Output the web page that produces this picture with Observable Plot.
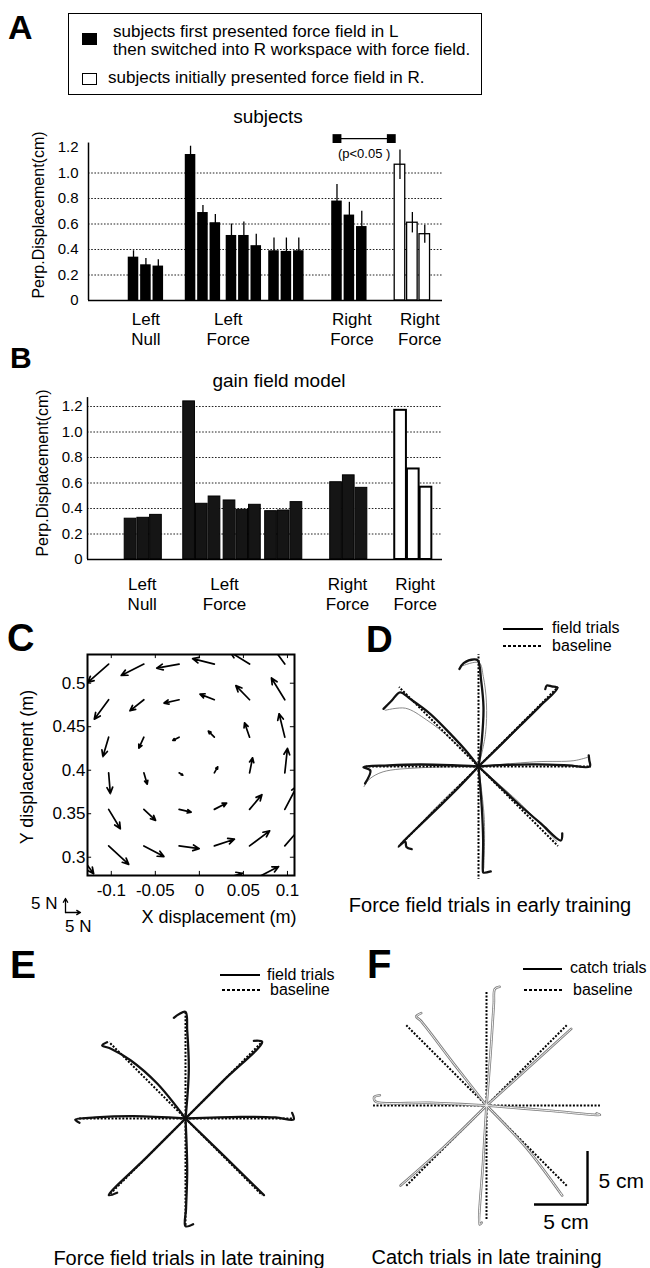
<!DOCTYPE html>
<html>
<head>
<meta charset="utf-8">
<script src="https://cdn.jsdelivr.net/npm/d3@7"></script>
<script src="https://cdn.jsdelivr.net/npm/@observablehq/plot@0.6"></script>
<style>
html,body{margin:0;padding:0;background:#fff;}
#fig{position:relative;width:650px;height:1268px;overflow:hidden;background:#fff;font-family:"Liberation Sans",Arial,Helvetica,sans-serif;color:#000;}
#fig svg{overflow:visible;}
</style>
</head>
<body>
<div id="fig"></div>
<script>
const FONT = '"Liberation Sans", Arial, Helvetica, sans-serif';

// ---------------- Panels A & B : data ----------------
const groupLabels = ["Left\nNull", "Left\nForce", "Right\nForce", "Right\nForce"];
const barsPerGroup = [3, 9, 3, 3];
const groupCondition = ["L first", "L first", "L first", "R first"];
const subjectsMean = [0.34, 0.28, 0.27, 1.145, 0.69, 0.61, 0.51, 0.51, 0.43, 0.39, 0.385, 0.39, 0.78, 0.67, 0.58, 1.065, 0.61, 0.52];
const subjectsErr  = [0.05, 0.05, 0.05, 0.065, 0.055, 0.065, 0.09, 0.105, 0.09, 0.10, 0.105, 0.10, 0.13, 0.10, 0.12, 0.115, 0.08, 0.07];
const modelMean    = [0.32, 0.327, 0.35, 1.24, 0.437, 0.494, 0.463, 0.39, 0.429, 0.379, 0.384, 0.45, 0.606, 0.66, 0.562, 1.17, 0.71, 0.567];
const perpTicks = [0, 0.2, 0.4, 0.6, 0.8, 1.0, 1.2];
const sigLabel = "(p<0.05 )";
const legendEntries = [
  "subjects first presented force field in L",
  "then switched into R workspace with force field.",
  "subjects initially presented force field in R."
];

// ---------------- Panel C : force field (m) ----------------
const quiverColsX = [-0.103, -0.063, -0.023, 0.017, 0.057, 0.097];
const quiverRowsY = [0.522, 0.481, 0.438, 0.397, 0.355, 0.313];
const quiverU = [
  [-0.0239, -0.0258, -0.0254, -0.0247, -0.0220, -0.0152],
  [-0.0163, -0.0159, -0.0171, -0.0163, -0.0156, -0.0152],
  [-0.0065, -0.0057, -0.0072, -0.0068, -0.0057, -0.0065],
  [ 0.0019,  0.0038,  0.0042,  0.0038,  0.0034,  0.0030],
  [ 0.0133,  0.0133,  0.0137,  0.0140,  0.0140,  0.0140],
  [ 0.0228,  0.0228,  0.0228,  0.0228,  0.0228,  0.0228]
];
const quiverV = [
  [-0.0212, -0.0131, -0.0046,  0.0062,  0.0138,  0.0212],
  [-0.0223, -0.0127, -0.0038,  0.0065,  0.0162,  0.0250],
  [-0.0223, -0.0127, -0.0038,  0.0069,  0.0165,  0.0269],
  [-0.0238, -0.0131, -0.0027,  0.0069,  0.0173,  0.0281],
  [-0.0223, -0.0127, -0.0031,  0.0073,  0.0169,  0.0269],
  [-0.0212, -0.0123, -0.0031,  0.0077,  0.0173,  0.0269]
];
const quiverEdge = [ // [x, y, u, v] arrows from just outside the frame
  [-0.143, 0.313, 0.023, -0.032],
  [0.017, 0.272, 0.032, 0.0096],
  [0.057, 0.272, 0.033, 0.0173]
];
const cXTicks = [-0.1, -0.05, 0, 0.05, 0.1];
const cYTicks = [0.3, 0.35, 0.4, 0.45, 0.5];
const forceKeyN = 5;

// ---------------- Panels D, E, F : hand paths (cm) ----------------
const targetDirsDeg = [0, 45, 90, 135, 180, 225, 270, 315];
const dFieldPaths = [
  [[0,0],[2.5,0.15],[5.5,0.2],[8.5,0.1],[10.5,0],[10.45,0.6],[10.4,1.05]],
  [[0,0],[2,1.95],[3.93,3.87],[5.8,5.7],[7.45,7.42],[6.9,7.55],[6.45,7.64],[6.3,7.3]],
  [[0,0],[0.31,2.45],[0.47,5.6],[0.25,8.1],[-0.05,10.0],[-0.4,10.1],[-1.4,9.75],[-1.8,9.2]],
  [[0,0],[-1.2,1.5],[-2.36,2.77],[-4.56,4.97],[-6.45,6.38],[-7.4,7.0],[-8.2,6.2],[-8.96,5.44]],
  [[0,0],[-2.5,0.12],[-5.5,0.19],[-8.5,0.1],[-10.85,-0.06],[-10.2,-0.38],[-10.7,-1.6]],
  [[0,0],[-1.9,-2.0],[-3.93,-4.0],[-5.8,-5.8],[-7.55,-7.55],[-6.9,-7.1],[-6.8,-7.6],[-6.3,-7.8]],
  [[0,0],[0.31,-3.84],[0.44,-6.98],[0.41,-9.8],[0.45,-10.0],[1.16,-9.9]],
  [[0,0],[1.9,-1.8],[3.93,-3.68],[5.9,-5.4],[7.77,-6.98],[7.9,-6.3]]
];
const dTrialPaths = [
  [[0,0],[5.5,0.45],[9,0.55],[10.4,0.9]],
  [[0,0],[3.9,3.7],[7.3,7.15]],
  [[0,0],[0.65,3],[0.75,6],[0.45,8.5],[0.05,9.8],[-1.5,9.5]],
  [[0,0],[-2.6,2.6],[-4.9,4.4],[-6.9,5.5],[-8.8,5.3]],
  [[0,0],[-5.5,-0.12],[-9,-0.5],[-10.3,-1.2],[-10.8,-1.9]],
  [[0,0],[-4.05,-3.9],[-7.3,-7.4]],
  [[0,0],[0.55,-5],[0.5,-9.6]],
  [[0,0],[4.05,-3.6],[7.4,-7.1]]
];
const eFieldPaths = [
  [[0,0],[5.2,0.16],[8.5,0.1],[10.2,-0.1],[10.06,0.53]],
  [[0,0],[3.6,3.6],[7.23,7.23],[6.45,7.33]],
  [[0,0],[0.31,4.56],[0.16,8.33],[0,10.06],[-0.63,9.84],[-1.1,9.5]],
  [[0,0],[-2.67,3.3],[-5.19,5.5],[-7.08,6.6],[-7.86,6.9],[-7.4,7.2]],
  [[0,0],[-4.87,0.22],[-8.5,0.1],[-10.4,-0.1],[-10.0,-0.4]],
  [[0,0],[-3.6,-3.6],[-7.23,-7.23],[-6.45,-7.0]],
  [[0,0],[0.16,-4.87],[0.05,-8.5],[0,-10.16],[0.72,-9.97]],
  [[0,0],[3.7,-3.6],[7.4,-7.23]]
];
const fCatchPaths = [
  [[0,0],[5.72,-0.47],[10.7,-0.88],[10.4,-0.75]],
  [[0,0],[3.84,3.46],[7.99,7.23]],
  [[0,0],[0.38,4.87],[0.69,9.6],[0.79,11.0],[1.23,11.2]],
  [[0,0],[-3.08,3.93],[-6.23,8.02],[-6.63,8.4],[-6.16,8.71]],
  [[0,0],[-5.28,0.25],[-10.47,0.38],[-10.6,0.79],[-10.06,0.97]],
  [[0,0],[-4.03,-3.93],[-8.11,-7.55]],
  [[0,0],[-0.31,-5.19],[-0.63,-11.23],[-0.45,-11.05]],
  [[0,0],[3.84,-4.09],[7.14,-8.49],[7.0,-8.3]]
];
const baselineReachCm = {D: 10.6, E: 10.2, F: 10.7};
const scaleBarCm = 5;

// ---------------- helpers ----------------
const fig = document.getElementById("fig");
function place(node, left, top) {
  node.style.position = "absolute";
  node.style.left = left + "px";
  node.style.top = top + "px";
  fig.appendChild(node);
  return node;
}
function label(str, x, baseline, size, opts = {}) {
  const {anchor = "start", weight = "normal"} = opts;
  const d = document.createElement("div");
  d.textContent = str;
  d.style.cssText = `white-space:nowrap;font-size:${size}px;line-height:${size}px;font-weight:${weight};`;
  place(d, x, baseline - 0.8465 * size);
  if (anchor === "middle") d.style.transform = "translateX(-50%)";
  if (anchor === "end") d.style.transform = "translateX(-100%)";
  return d;
}
function vlabel(str, cx, cy, size) {
  const d = document.createElement("div");
  d.textContent = str;
  d.style.cssText = `white-space:nowrap;font-size:${size}px;line-height:${size}px;transform:translate(-50%,-50%) rotate(-90deg);`;
  place(d, cx, cy);
}
function box(left, top, w, h, css) {
  const d = document.createElement("div");
  d.style.cssText = `width:${w}px;height:${h}px;box-sizing:border-box;${css}`;
  return place(d, left, top);
}
function legendLine(left, y, w, dotted) {
  const bg = dotted ? "repeating-linear-gradient(90deg,#000 0 3px,transparent 3px 5px)" : "#000";
  box(left, y - 1, w, 2, `background:${bg};`);
}
function plotStyle(size) {
  return {fontFamily: FONT, fontSize: size + "px", background: "transparent", overflow: "visible", maxWidth: "none", color: "black"};
}

// ---------------- bar panels ----------------
function barRows(values, errs, layout) {
  const rows = [];
  let pos = 0, g = 0, k = 0;
  values.forEach((v, i) => {
    if (i % 3 === 0) pos = i === 0 ? layout.gaps[0] : pos + 1 + layout.gaps[i / 3];
    else pos += 1;
    rows.push({pos, value: v, err: errs ? errs[i] : 0, group: g, cond: groupCondition[g]});
    if (++k === barsPerGroup[g]) { g++; k = 0; }
  });
  return rows;
}
function groupLabelRows(rows, layout) {
  return groupLabels.map((text, g) => ({
    text, pos: d3.mean(rows.filter(r => r.group === g), r => r.pos) + layout.labelShift[g]
  }));
}
const tickFmt = d => d === 0 ? "0" : d.toFixed(1);

function barPanel(rows, layout, cfg) {
  const hw = layout.barW / 2;
  const black = rows.filter(r => r.cond === "L first");
  const white = rows.filter(r => r.cond === "R first");
  const marks = [
    Plot.ruleY(cfg.grid, {x1: () => 0, x2: () => layout.span, stroke: "#222", strokeWidth: 1, strokeDasharray: "1.6,1.6"}),
    Plot.rectY(black, {x1: d => d.pos - hw, x2: d => d.pos + hw, y1: () => 0, y2: "value", fill: cfg.blackFill, stroke: "#000", strokeWidth: cfg.blackStroke}),
    Plot.rectY(white, {x1: d => d.pos - hw, x2: d => d.pos + hw, y1: () => 0, y2: "value", fill: "white", stroke: "#000", strokeWidth: cfg.whiteStroke})
  ];
  if (cfg.errors) marks.push(Plot.ruleX(rows, {x: "pos", y1: d => d.value - d.err, y2: d => d.value + d.err, stroke: "#000", strokeWidth: 1.3}));
  marks.push(
    Plot.ruleY([0], {x1: () => 0, x2: () => layout.span, stroke: "#000", strokeWidth: 1.5}),
    Plot.ruleX([0], {y1: () => 0, y2: () => cfg.axisTop, stroke: "#000", strokeWidth: 1.5}),
    Plot.axisY(perpTicks, {tickSize: 0, tickPadding: cfg.tickPad, tickFormat: tickFmt, fontSize: 15, label: null}),
    Plot.text(groupLabelRows(rows, layout), {x: "pos", y: () => 0, text: "text", lineAnchor: "top", dy: cfg.labelDy, fontSize: 17, lineHeight: 20 / 17})
  );
  if (cfg.extra) marks.push(...cfg.extra);
  return Plot.plot({
    width: 450, height: cfg.height,
    marginLeft: cfg.axisX, marginRight: 8, marginTop: cfg.marginTop, marginBottom: cfg.marginBottom,
    x: {domain: [0, layout.span], axis: null},
    y: {domain: [0, 1.2], label: null},
    style: plotStyle(15),
    marks
  });
}

// Panel A
const layoutA = {gaps: [3.63, 1.6, 0.3, 0.43, 2.08, 2.08], span: 28.55, barW: 0.85, labelShift: [0, -1.3, 0.2, 0.6]};
const rowsA = barRows(subjectsMean, subjectsErr, layoutA);
const sigY = 1.27;
const sigA = rowsA[12].pos, sigB = rowsA[15].pos - 0.7;
const plotA = barPanel(rowsA, layoutA, {
  height: 220, axisX: 88, marginTop: 19, marginBottom: 48,
  grid: perpTicks.filter(t => t > 0 && t < 1.2),
  blackFill: "#000", blackStroke: 0, whiteStroke: 1.3, errors: true,
  axisTop: 1.235, tickPad: 10, labelDy: 10,
  extra: [
    Plot.ruleY([sigY], {x1: () => sigA, x2: () => sigB, stroke: "#000", strokeWidth: 1.4}),
    Plot.dot([sigA, sigB], {x: d => d, y: () => sigY, symbol: "square", r: 5, fill: "#000"}),
    Plot.text([sigLabel], {x: () => (sigA + sigB) / 2, y: () => sigY, dy: 15, fontSize: 13})
  ]
});
place(plotA, 0, 128);

// Panel B
const layoutB = {gaps: [3.39, 1.61, 0.18, 0.27, 2.12, 2.08], span: 27.95, barW: 0.92, labelShift: [-0.08, -1.42, -0.1, 0.15]};
const rowsB = barRows(modelMean, null, layoutB);
const plotB = barPanel(rowsB, layoutB, {
  height: 230, axisX: 87, marginTop: 16, marginBottom: 61,
  grid: perpTicks.filter(t => t > 0),
  blackFill: "#151515", blackStroke: 1, whiteStroke: 2, errors: false,
  axisTop: 1.27, tickPad: 5, labelDy: 16
});
place(plotB, 0, 390);

// ---------------- Panel C : quiver ----------------
const quiverRows = [];
quiverRowsY.forEach((y, r) => quiverColsX.forEach((x, c) => quiverRows.push({x, y, u: quiverU[r][c], v: quiverV[r][c]})));
quiverEdge.forEach(([x, y, u, v]) => quiverRows.push({x, y, u, v}));
const cXDom = [-0.127, 0.108], cYDom = [0.279, 0.533];
const tk = 0.0047;
const plotC = Plot.plot({
  width: 300, height: 262, marginLeft: 87, marginRight: 6, marginTop: 14, marginBottom: 27,
  x: {domain: cXDom, label: null},
  y: {domain: cYDom, label: null},
  style: plotStyle(17),
  marks: [
    Plot.arrow(quiverRows, {x1: "x", y1: "y", x2: d => d.x + d.u, y2: d => d.y + d.v, stroke: "#000", strokeWidth: 1.7, headLength: 6, headAngle: 50, clip: true}),
    Plot.ruleX(cXTicks, {y1: () => cYDom[0], y2: () => cYDom[0] + tk, stroke: "#000"}),
    Plot.ruleX(cXTicks, {y1: () => cYDom[1], y2: () => cYDom[1] - tk, stroke: "#000"}),
    Plot.ruleY(cYTicks, {x1: () => cXDom[0], x2: () => cXDom[0] + tk, stroke: "#000"}),
    Plot.ruleY(cYTicks, {x1: () => cXDom[1], x2: () => cXDom[1] - tk, stroke: "#000"}),
    Plot.frame({stroke: "#000", strokeWidth: 2}),
    Plot.axisX(cXTicks, {tickSize: 0, tickPadding: 8, tickFormat: d => String(d), fontSize: 17, label: null}),
    Plot.axisY(cYTicks, {tickSize: 0, tickPadding: 2, tickFormat: d => String(d), fontSize: 17, label: null})
  ]
});
place(plotC, 0, 640);

const keyPlot = Plot.plot({
  width: 24, height: 20, marginLeft: 2, marginRight: 7, marginTop: 5, marginBottom: 1,
  x: {domain: [0, forceKeyN], axis: null}, y: {domain: [0, forceKeyN], axis: null},
  style: plotStyle(10),
  marks: [Plot.arrow([[forceKeyN, 0], [0, forceKeyN]], {x1: () => 0, y1: () => 0, x2: d => d[0], y2: d => d[1], stroke: "#000", strokeWidth: 1.3, headLength: 5, headAngle: 60})]
});
place(keyPlot, 63, 893);

// ---------------- Panels D, E, F ----------------
const STAR = 140, PXCM = 10.6, HALF = STAR / PXCM;
function pathRows(paths) { return paths.flatMap((p, i) => p.map(([x, y]) => ({x, y, dir: targetDirsDeg[i]}))); }
function baselineRows(r) { return targetDirsDeg.map(a => ({dir: a, x2: r * Math.cos(a * Math.PI / 180), y2: r * Math.sin(a * Math.PI / 180)})); }
function starPlot(marks) {
  return Plot.plot({
    width: 2 * STAR, height: 2 * STAR, margin: 0,
    x: {domain: [-HALF, HALF], axis: null}, y: {domain: [-HALF, HALF], axis: null},
    style: plotStyle(16), marks
  });
}
const lineOpts = {x: "x", y: "y", z: "dir", curve: "catmull-rom", strokeLinejoin: "round", strokeLinecap: "round"};
function baselineMark(r) {
  return Plot.link(baselineRows(r), {x1: () => 0, y1: () => 0, x2: "x2", y2: "y2", stroke: "#000", strokeWidth: 2, strokeDasharray: "2,1.6"});
}

const plotD = starPlot([
  Plot.line(pathRows(dTrialPaths), {...lineOpts, stroke: "#7a7a7a", strokeWidth: 0.9}),
  baselineMark(baselineReachCm.D),
  Plot.line(pathRows(dFieldPaths), {...lineOpts, stroke: "#111", strokeWidth: 2.3})
]);
place(plotD, 478 - STAR, 766 - STAR);

const plotE = starPlot([
  baselineMark(baselineReachCm.E),
  Plot.line(pathRows(eFieldPaths), {...lineOpts, stroke: "#111", strokeWidth: 2.3})
]);
place(plotE, 185 - STAR, 1118 - STAR);

const sbX = 9.53, sbY = -9.34;
const plotF = starPlot([
  baselineMark(baselineReachCm.F),
  Plot.line(pathRows(fCatchPaths), {...lineOpts, stroke: "#7f7f7f", strokeWidth: 2.6}),
  Plot.line(pathRows(fCatchPaths), {...lineOpts, stroke: "#fff", strokeWidth: 0.9}),
  Plot.ruleX([sbX], {y1: () => sbY, y2: () => sbY + scaleBarCm, stroke: "#000", strokeWidth: 2.4}),
  Plot.ruleY([sbY], {x1: () => sbX - scaleBarCm, x2: () => sbX, stroke: "#000", strokeWidth: 2.4}),
  Plot.text([scaleBarCm + " cm"], {x: () => sbX, y: () => sbY + scaleBarCm / 2, dx: 11, dy: 3, textAnchor: "start", fontSize: 21}),
  Plot.text([scaleBarCm + " cm"], {x: () => sbX - scaleBarCm / 2, y: () => sbY, dx: 5, dy: 18, fontSize: 21})
]);
place(plotF, 486 - STAR, 1105 - STAR);

// ---------------- text & legends ----------------
label("A", 8, 39, 34, {weight: "bold"});
label("B", 10, 368, 30, {weight: "bold"});
label("C", 7, 651, 38, {weight: "bold"});
label("D", 366, 652, 37, {weight: "bold"});
label("E", 10, 978, 39, {weight: "bold"});
label("F", 367, 978, 40, {weight: "bold"});

box(68, 13, 414, 82, "border:1.5px solid #000;");
box(82, 33, 15, 12, "background:#000;");
box(82, 73, 15, 12, "border:1.5px solid #000;background:#fff;");
label(legendEntries[0], 113, 37, 17);
label(legendEntries[1], 113, 55, 17);
label(legendEntries[2], 108, 83, 17);

label("subjects", 268, 123, 19, {anchor: "middle"});
label("gain field model", 279, 387, 19, {anchor: "middle"});
vlabel("Perp.Displacement(cm)", 38.5, 215, 16);
vlabel("Perp.Displacement(cm)", 43, 473, 16);

vlabel("Y displacement (m)", 26.5, 767, 18);
label("X displacement (m)", 219, 923, 18, {anchor: "middle"});
label("5 N", 31, 909, 17);
label("5 N", 65, 932, 17);

legendLine(503, 629, 40, false);
label("field trials", 552, 634, 16);
legendLine(503, 646, 40, true);
label("baseline", 552, 651.5, 16);
label("Force field trials in early training", 490, 912, 20, {anchor: "middle"});

legendLine(220, 975, 40, false);
label("field trials", 267, 980.5, 16);
legendLine(222, 990, 38, true);
label("baseline", 270, 996, 16);
label("Force field trials in late training", 189, 1265, 20, {anchor: "middle"});

legendLine(523, 969, 39, false);
label("catch trials", 570, 974, 16);
legendLine(524, 990, 38, true);
label("baseline", 573, 995.5, 16);
label("Catch trials in late training", 486.5, 1264, 20, {anchor: "middle"});
</script>
</body>
</html>
